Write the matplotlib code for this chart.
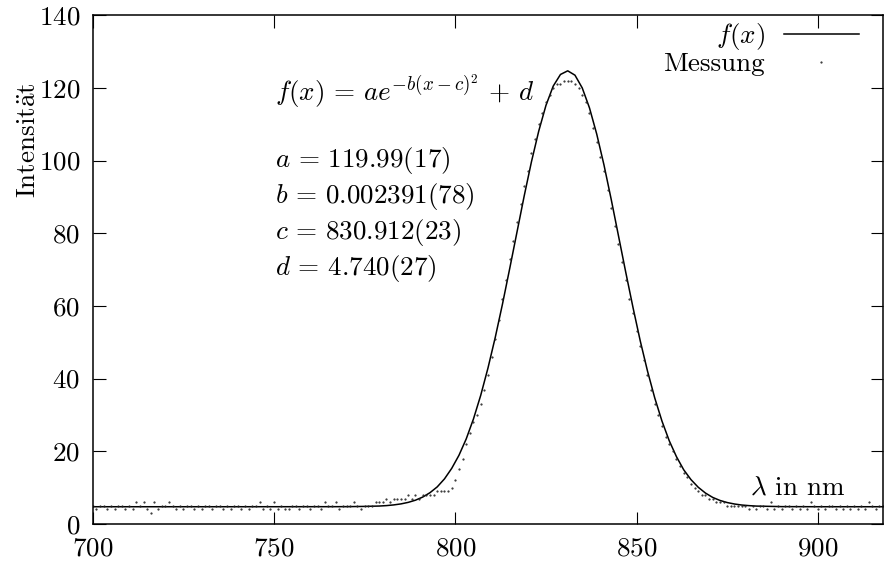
"""
Gaussian fit to a measured spectrum (gnuplot-like look)
"""
import matplotlib
matplotlib.use("Agg")
import matplotlib.pyplot as plt
import numpy as np

plt.rcParams['font.family'] = 'serif'
plt.rcParams['font.serif'] = ['cmr10']
plt.rcParams['mathtext.fontset'] = 'cm'
plt.rcParams['axes.formatter.use_mathtext'] = True

FS = 19.5

# measurement, one value per nm from 700 to 918
mess_x = np.arange(700, 919)
mess_y = [
    5, 4, 5, 5, 4, 5, 4, 5, 5, 4,
    5, 4, 6, 5, 6, 4, 3, 6, 4, 5,
    5, 6, 5, 4, 5, 4, 5, 5, 4, 5,
    4, 5, 5, 4, 5, 5, 4, 5, 4, 5,
    5, 4, 5, 4, 5, 5, 6, 4, 5, 4,
    6, 4, 5, 4, 4, 5, 5, 4, 5, 5,
    4, 5, 5, 4, 6, 5, 5, 6, 4, 5,
    5, 5, 6, 5, 4, 5, 5, 5, 6, 6,
    6, 7, 6, 7, 7, 7, 7, 8, 7, 8,
    7, 8, 8, 8, 8, 9, 9, 9, 9, 10,
    12, 15, 18, 22, 25, 28, 30, 33, 37, 41,
    46, 51, 56, 62, 67, 73, 78, 83, 88, 93,
    97, 102, 106, 110, 113, 116, 118, 120, 121, 121,
    122, 122, 122, 121, 120, 118, 116, 113, 109, 105,
    101, 97, 92, 87, 82, 77, 72, 67, 62, 58,
    53, 49, 45, 41, 37, 33, 30, 27, 24, 22,
    20, 18, 16, 14, 13, 11, 10, 9, 8, 8,
    7, 7, 6, 6, 6, 5, 5, 5, 5, 5,
    5, 4, 5, 4, 5, 5, 4, 6, 4, 5,
    4, 5, 5, 4, 5, 4, 5, 4, 6, 5,
    4, 5, 4, 5, 5, 4, 5, 4, 5, 4,
    5, 4, 5, 4, 6, 5, 4, 5, 5,
]

# fitted curve as drawn
fit_x = [700, 720, 740, 760, 770, 775,
         779, 781, 783, 785, 787, 789, 791, 793, 795, 797, 799,
         801, 803, 805, 807, 809, 811, 813, 815, 817, 819,
         821, 823, 825, 827, 829, 831, 833, 835, 837, 839,
         841, 843, 845, 847, 849, 851, 853, 855, 857, 859,
         861, 863, 865, 867, 869, 871, 873, 875, 877, 879,
         881, 883, 890, 900, 918]
fit_y = [4.74, 4.74, 4.74, 4.75, 4.76, 4.83,
         4.93, 5.05, 5.24, 5.52, 5.94, 6.54, 7.4, 8.6, 10.2, 12.4, 15.3,
         18.9, 23.4, 28.9, 35.4, 42.9, 51.3, 60.5, 70.3, 80.3, 90.3,
         99.7, 108.1, 115.2, 120.5, 123.7, 124.7, 123.5, 120.0, 114.5, 107.3,
         98.8, 89.3, 79.3, 69.3, 59.6, 50.4, 42.1, 34.7, 28.3, 22.9,
         18.5, 14.9, 12.2, 10.1, 8.5, 7.3, 6.47, 5.89, 5.49, 5.21,
         5.04, 4.92, 4.77, 4.74, 4.74]

params = [r'$a\,=\,119.99(17)$', r'$b\,=\,0.002391(78)$',
          r'$c\,=\,830.912(23)$', r'$d\,=\,4.740(27)$']

fig = plt.figure(figsize=(8.84, 5.64), dpi=100)
ax = fig.add_axes([0.105, 0.071, 0.894, 0.902])

ax.plot(fit_x, fit_y, color='k', lw=1.1, label=r'$f(x)$')
ax.plot(mess_x, mess_y, ls='none', marker='.', ms=1.1, color='#222222',
        label='Messung')

ax.set_xlim(700, 918)
ax.set_ylim(0, 140)
ax.set_xticks([700, 750, 800, 850, 900])
ax.set_yticks(range(0, 141, 20))
ax.tick_params(direction='in', length=9, width=0.8, labelsize=FS,
               top=True, right=True, pad=9)
for s in ax.spines.values():
    s.set_linewidth(1.1)

ax.legend(loc='upper right', bbox_to_anchor=(0.970, 0.988), frameon=False,
          markerfirst=False, numpoints=1, handlelength=2.8,
          handletextpad=0.7, borderpad=0, borderaxespad=0,
          labelspacing=0.0, fontsize=FS)

# formula and parameters
ax.text(750.3, 119.1, r'$f(x)\,=\,ae^{-b(x-c)^2}\,+\,d$', fontsize=FS,
        va='center', ha='left')
for i, p in enumerate(params):
    ax.text(750.3, 100.1 - i * 9.95, p, fontsize=FS, va='center', ha='left')

ax.text(0.952, 0.071, r'$\lambda$ in nm', transform=ax.transAxes,
        fontsize=FS, ha='right', va='center')
ax.text(-0.080, 0.754, r'$\mathrm{Intensit\ddot{a}t}$', transform=ax.transAxes,
        fontsize=FS, rotation=90, ha='center', va='center')

fig.savefig('out.png', dpi=100)
